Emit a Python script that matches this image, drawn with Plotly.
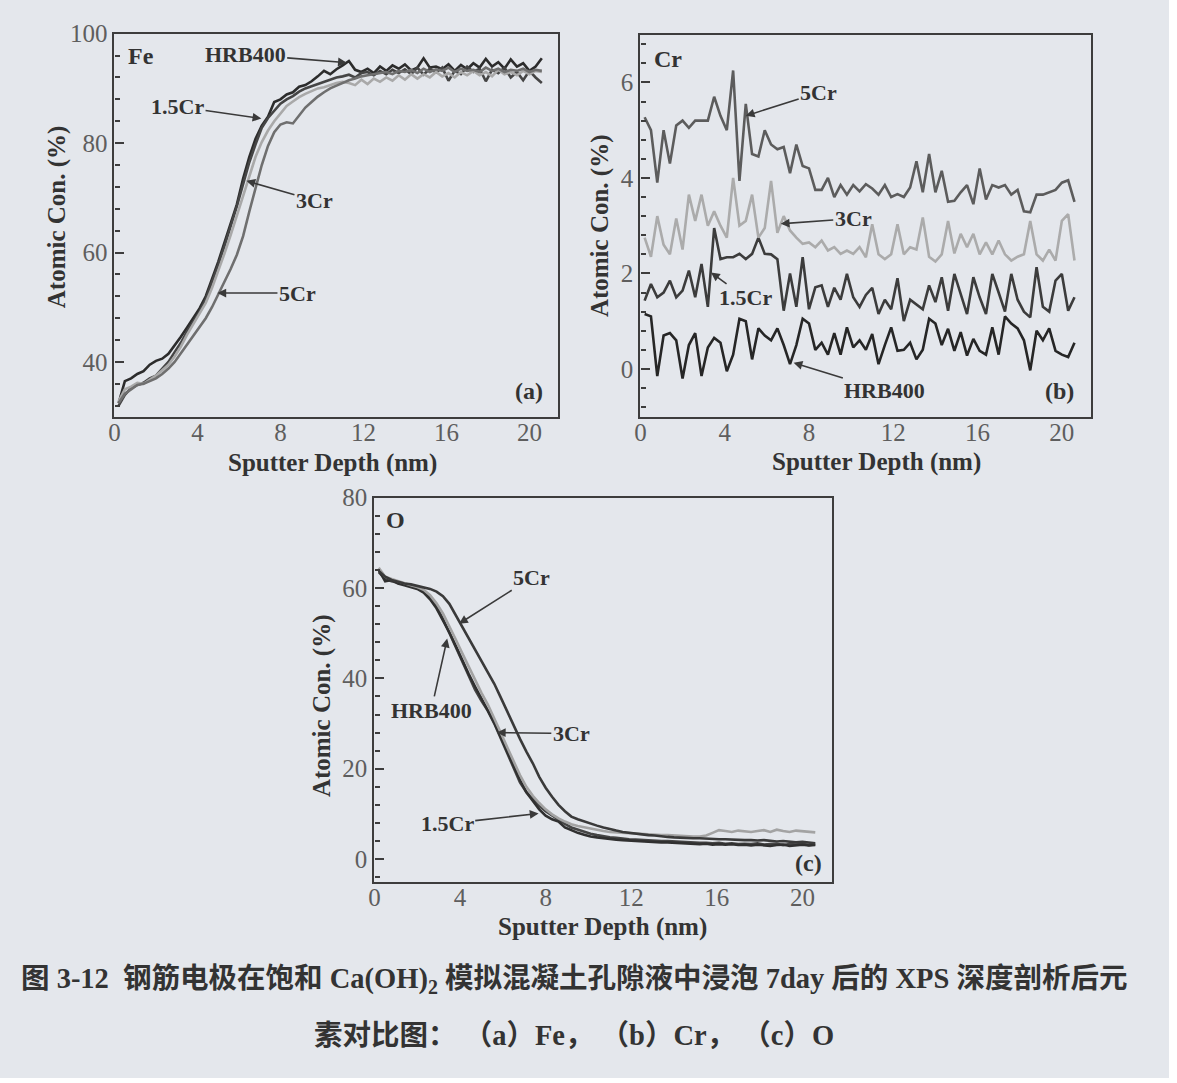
import plotly.graph_objects as go

# Sputter depth grid (nm) shared by all profiles
DEPTH = [0.2, 0.5, 0.8, 1.1, 1.4, 1.7, 2.0, 2.3, 2.6, 2.9,
         3.2, 3.5, 3.8, 4.1, 4.4, 4.7, 5.0, 5.3, 5.6, 5.9,
         6.2, 6.5, 6.8, 7.1, 7.4, 7.7, 8.0, 8.3, 8.6, 8.9,
         9.2, 9.5, 9.8, 10.1, 10.4, 10.7, 11.0, 11.3, 11.6, 11.9,
         12.2, 12.5, 12.8, 13.1, 13.4, 13.7, 14.0, 14.3, 14.6, 14.9,
         15.2, 15.5, 15.8, 16.1, 16.4, 16.7, 17.0, 17.3, 17.6, 17.9,
         18.2, 18.5, 18.8, 19.1, 19.4, 19.7, 20.0, 20.3, 20.6]

SAMPLES = ["HRB400", "1.5Cr", "3Cr", "5Cr"]

# (a) Fe atomic concentration (%)
FE_HRB400 = [32.5, 36.5, 37.0, 37.8, 38.3, 39.5, 40.2, 40.6, 41.5, 43.0,
             44.6, 46.3, 48.0, 49.8, 52.0, 55.0, 58.3, 61.8, 65.2, 68.8,
             73.5, 77.5, 80.8, 83.2, 84.8, 87.5, 88.0, 88.9, 89.3, 90.3,
             90.6, 91.3, 92.2, 93.2, 92.6, 93.5, 94.2, 95.0, 93.4, 93.0,
             93.6, 92.8, 94.0, 93.2, 94.2, 93.6, 94.4, 93.3, 93.8, 95.5,
             93.8, 94.0, 93.5, 94.4, 93.2, 94.3, 93.5, 94.6, 93.8, 95.4,
             94.0, 94.8, 93.6, 95.3, 94.0, 94.6, 93.2, 94.0, 95.5]
FE_15CR = [32.0, 34.0, 35.2, 35.8, 36.2, 37.0, 37.5, 38.8, 40.0, 41.8,
           43.5, 45.6, 47.5, 49.2, 51.5, 54.5, 57.8, 61.2, 64.8, 68.5,
           72.5, 76.5, 79.8, 82.8, 84.6, 86.0, 87.2, 88.0, 88.6, 89.4,
           90.0, 90.4, 90.8, 91.2, 91.6, 92.0, 92.2, 92.5, 92.0, 92.8,
           93.0, 92.4, 93.2, 92.6, 93.4, 92.8, 93.5, 92.6, 93.8, 92.5,
           93.6, 92.9, 93.8, 91.4, 93.2, 92.6, 94.0, 93.0, 93.6, 91.3,
           93.4, 92.8, 93.8, 92.0, 93.0, 91.5, 93.2, 92.0, 91.0]
FE_3CR = [32.8, 35.0, 35.5, 36.2, 36.0, 36.8, 37.5, 38.5, 39.5, 41.0,
          42.8, 45.0, 47.0, 48.8, 50.8, 53.5, 56.5, 59.8, 63.2, 66.8,
          70.5, 74.2, 77.5, 80.2, 82.3, 84.0, 85.5, 86.8, 87.6, 88.4,
          89.0, 89.5, 90.0, 90.2, 90.6, 91.0, 91.2, 91.0, 90.6, 91.6,
          90.8, 91.8, 91.2, 92.0, 91.4, 92.4, 91.6, 92.6, 91.8, 92.6,
          92.0, 93.0, 92.2, 92.8, 92.0, 93.0, 92.4, 93.2, 92.4, 93.0,
          92.2, 93.4, 92.6, 93.0, 92.4, 93.2, 92.6, 93.2, 93.0]
FE_5CR = [32.5, 34.2, 35.0, 35.8, 36.0, 36.5, 37.0, 37.8, 38.8, 40.0,
          41.5, 43.2, 44.8, 46.5, 48.0, 50.0, 52.3, 54.5, 57.0, 59.6,
          63.0, 67.5, 72.0, 76.0, 79.5, 82.0, 83.4, 83.8, 83.6, 85.0,
          86.5, 87.5, 88.5, 89.3, 90.0, 90.5, 91.0, 91.5, 91.8, 92.2,
          92.4, 92.6, 92.8, 93.0, 92.6, 93.2, 93.0, 93.4, 92.8, 93.6,
          93.0, 93.5, 93.2, 93.8, 93.0, 93.6, 93.2, 93.4, 93.0, 93.8,
          93.2, 93.6, 93.0, 93.4, 93.2, 93.6, 93.0, 93.4, 93.2]

# (b) Cr atomic concentration (%)
CR_HRB400 = [1.15, 1.1, -0.15, 0.7, 0.75, 0.6, -0.2, 0.5, 0.75, -0.15,
             0.45, 0.65, 0.55, -0.05, 0.3, 1.05, 1.0, 0.2, 0.85, 0.7,
             0.6, 0.85, 0.5, 0.1, 0.5, 1.05, 0.95, 0.4, 0.55, 0.3,
             0.75, 0.3, 0.87, 0.45, 0.6, 0.4, 0.73, 0.1, 0.5, 0.87,
             0.38, 0.4, 0.55, 0.2, 0.4, 1.05, 0.95, 0.5, 0.84, 0.38,
             0.77, 0.28, 0.63, 0.38, 0.3, 0.87, 0.3, 1.1, 0.95, 0.85,
             0.6, -0.03, 0.8, 0.6, 0.85, 0.38, 0.3, 0.25, 0.55]
CR_15CR = [1.43, 1.78, 1.5, 1.6, 1.85, 1.5, 1.64, 2.06, 1.5, 2.2,
           1.3, 2.95, 2.3, 2.34, 2.34, 2.41, 2.3, 2.41, 2.75, 2.41,
           2.4, 2.3, 1.22, 2.0, 1.3, 2.34, 1.25, 1.71, 1.75, 1.3,
           1.7, 1.45, 1.99, 1.5, 1.3, 1.55, 1.7, 1.15, 1.45, 1.25,
           1.9, 1.0, 1.45, 1.35, 1.25, 1.75, 1.4, 1.92, 1.22, 1.99,
           1.55, 1.15, 1.92, 1.5, 1.15, 1.99, 1.6, 1.2, 1.99, 1.45,
           1.2, 1.08, 2.13, 1.3, 1.2, 1.85, 1.99, 1.22, 1.5]
CR_3CR = [2.75, 2.35, 3.2, 2.6, 2.4, 3.15, 2.5, 3.65, 3.1, 3.65,
          3.0, 3.3, 3.0, 2.75, 4.0, 3.0, 3.1, 3.65, 2.75, 2.95,
          3.94, 2.85, 3.2, 2.9, 2.75, 2.62, 2.65, 2.55, 2.69, 2.48,
          2.55, 2.41, 2.48, 2.41, 2.55, 2.34, 3.03, 2.4, 2.3, 2.4,
          3.03, 2.4, 2.55, 2.5, 3.17, 2.35, 2.25, 2.4, 3.1, 2.42,
          2.83, 2.55, 2.83, 2.4, 2.65, 2.4, 2.69, 2.4, 2.27, 2.35,
          2.4, 3.1, 2.4, 2.27, 2.5, 2.27, 3.1, 3.24, 2.27]
CR_5CR = [5.27, 5.0, 3.9, 5.0, 4.3, 5.1, 5.2, 5.05, 5.2, 5.2,
          5.2, 5.7, 5.3, 5.0, 6.25, 3.94, 5.55, 4.5, 4.45, 5.0,
          4.7, 4.6, 4.65, 4.1, 4.7, 4.25, 4.2, 3.75, 3.75, 4.0,
          3.6, 3.85, 3.65, 3.85, 3.72, 3.87, 3.78, 3.65, 3.85, 3.6,
          3.66, 3.6, 3.8, 4.35, 3.7, 4.5, 3.7, 4.15, 3.5, 3.52,
          3.7, 3.85, 3.45, 4.2, 3.55, 3.85, 3.8, 3.85, 3.65, 3.75,
          3.3, 3.28, 3.65, 3.65, 3.7, 3.75, 3.9, 3.95, 3.5]

# (c) O atomic concentration (%)
O_HRB400 = [63.5, 62.0, 61.5, 61.2, 60.8, 60.5, 60.0, 59.2, 57.8, 55.8,
            53.2, 50.0, 47.0, 43.8, 40.5, 37.5, 35.0, 32.8, 30.0, 26.8,
            23.5, 20.0, 17.0, 14.8, 13.2, 11.8, 10.6, 9.6, 8.6, 7.8,
            7.0, 6.5, 6.0, 5.6, 5.3, 5.0, 4.8, 4.7, 4.5, 4.4,
            4.3, 4.2, 4.2, 4.1, 4.0, 4.0, 3.9, 3.8, 3.8, 3.7,
            3.6, 3.6, 3.5, 3.6, 3.4, 3.5, 3.3, 3.4, 3.3, 3.5,
            3.2, 3.3, 3.4, 3.1, 3.3, 3.2, 3.4, 3.1, 3.3]
O_15CR = [64.0, 61.5, 61.8, 61.0, 60.6, 60.2, 59.8, 59.0, 57.5, 55.5,
          53.0, 50.2, 47.2, 44.0, 41.0, 38.2, 35.5, 33.0, 30.2, 27.0,
          23.8, 20.5, 17.5, 14.8, 12.8, 11.0, 9.6, 8.8, 8.3, 7.0,
          6.4, 5.8, 5.4, 5.0, 4.8, 4.6, 4.4, 4.3, 4.2, 4.1,
          4.0, 3.9, 3.9, 3.8, 3.7, 3.7, 3.6, 3.5, 3.5, 3.4,
          3.3, 3.4, 3.2, 3.3, 3.2, 3.3, 3.1, 3.2, 3.0, 3.2,
          3.1, 2.9, 3.1, 3.2, 2.9, 3.0, 3.2, 3.0, 3.1]
O_3CR = [64.5, 62.5, 62.0, 61.5, 61.0, 60.6, 60.2, 59.6, 58.4, 56.6,
         54.4, 51.6, 48.6, 45.6, 42.6, 39.6, 36.8, 34.2, 31.2, 28.0,
         24.8, 21.6, 18.6, 16.0, 14.0, 12.4, 11.0, 9.9, 9.0, 8.3,
         7.7, 7.3, 7.0, 6.7, 6.4, 6.2, 6.0, 5.9, 5.8, 5.7,
         5.6, 5.5, 5.5, 5.4, 5.3, 5.3, 5.2, 5.1, 5.0, 5.0,
         5.0, 5.2, 5.8, 6.4, 6.2, 6.0, 6.3, 6.1, 6.0, 6.2,
         6.4, 6.0, 6.5, 6.2, 6.0, 6.3, 6.2, 6.1, 5.9]
O_5CR = [63.8, 62.5, 61.8, 61.4, 61.0, 60.8, 60.5, 60.2, 59.8, 59.2,
         58.2, 56.5, 54.0, 51.6, 49.0, 46.5, 44.0, 41.4, 38.8, 35.8,
         32.6, 29.5, 26.6, 23.8, 21.2, 18.2, 15.8, 13.8, 12.0, 10.6,
         9.4, 8.8, 8.3, 7.9, 7.4, 7.0, 6.6, 6.3, 6.0, 5.8,
         5.6, 5.4, 5.3, 5.2, 5.0, 4.9, 4.8, 4.7, 4.7, 4.6,
         4.6, 4.5, 4.5, 4.4, 4.4, 4.3, 4.3, 4.2, 4.2, 4.1,
         4.2, 4.0, 3.9, 4.0, 3.8, 3.7, 3.8, 3.6, 3.5]

X_TICKS = [0, 4, 8, 12, 16, 20]

PAPER = "#e4e7ec"
INK = "#333333"
TICK_INK = "#5e5e5e"
FRAME = "#3d3d3d"
SERIF = "Liberation Serif, Times New Roman, serif"

# figure canvas size and the page-layout positions (px) it is laid out in
W, H = 1169, 1078


def fx(x):
    return (x - 6.5) / 0.995


def fy(y):
    return (y - 12.3) / 0.988


def px(x):
    return fx(x) / W


def py(y):
    return 1 - fy(y) / H


# panel -> (axis suffix, series list, line colours)
panels = [
    ("", [FE_HRB400, FE_15CR, FE_3CR, FE_5CR],
     ["#2c2c2c", "#454545", "#a9a9a9", "#6f6f6f"]),
    ("2", [CR_HRB400, CR_15CR, CR_3CR, CR_5CR],
     ["#262626", "#3c3c3c", "#ababab", "#5c5c5c"]),
    ("3", [O_HRB400, O_15CR, O_3CR, O_5CR],
     ["#454545", "#303030", "#a3a3a3", "#3a3a3a"]),
]

fig = go.Figure()
for suffix, series, colours in panels:
    for name, vals, col in zip(SAMPLES, series, colours):
        fig.add_trace(go.Scatter(
            x=DEPTH, y=vals, mode="lines", name=name,
            line=dict(color=col, width=2.6),
            xaxis="x" + suffix, yaxis="y" + suffix, showlegend=False,
        ))


def x_axis(left, right, anchor):
    return dict(
        domain=[px(left), px(right)], anchor=anchor, range=[0, 21.4],
        tickvals=X_TICKS, ticks="", showgrid=False, zeroline=False,
        showline=True, mirror=True, linecolor=FRAME, linewidth=2.2,
        ticklabelstandoff=-8,
        tickfont=dict(family=SERIF, size=25, color=TICK_INK),
    )


def y_axis(top, bottom, anchor, rng, tickvals, minor_step):
    return dict(
        domain=[py(bottom), py(top)], anchor=anchor, range=rng,
        tickvals=tickvals,
        ticks="inside", ticklen=9, tickwidth=2, tickcolor=FRAME,
        minor=dict(ticks="inside", ticklen=5, tickwidth=1.6,
                   tickcolor=FRAME, dtick=minor_step, tick0=0),
        showgrid=False, zeroline=False,
        showline=True, mirror=True, linecolor=FRAME, linewidth=2.2,
        tickfont=dict(family=SERIF, size=25, color=TICK_INK),
    )


fig.update_layout(
    width=W, height=H, margin=dict(l=0, r=0, t=0, b=0),
    paper_bgcolor=PAPER, plot_bgcolor=PAPER,
    xaxis=x_axis(115, 559, "y"),
    yaxis=y_axis(33, 416, "x", [30, 100], [40, 60, 80, 100], 4),
    xaxis2=x_axis(641, 1092, "y2"),
    yaxis2=y_axis(34, 416, "x2", [-1, 7], [0, 2, 4, 6], 0.4),
    xaxis3=x_axis(375, 833, "y3"),
    yaxis3=y_axis(497, 881, "x3", [-5, 80], [0, 20, 40, 60, 80], 4),
)

LABEL_FONT = dict(family=SERIF, size=22, color=INK)
TITLE_FONT = dict(family=SERIF, size=25, color=INK)


def arrow_note(text, xa, ya, tip, tail):
    return dict(
        text="<b>" + text + "</b>", xref=xa, yref=ya,
        x=tip[0], y=tip[1], ax=tail[0], ay=tail[1],
        axref=xa, ayref=ya, showarrow=True,
        arrowhead=2, arrowsize=1.1, arrowwidth=1.6, arrowcolor="#3a3a3a",
        standoff=0, startstandoff=0, font=LABEL_FONT,
    )


def plain_note(text, xa, ya, pos, size, anchor="center"):
    return dict(text="<b>" + text + "</b>", xref=xa, yref=ya,
                x=pos[0], y=pos[1], showarrow=False, xanchor=anchor,
                font=dict(family=SERIF, size=size, color=INK))


def page_text(text, x, y, font, angle=0):
    return dict(text=text, xref="paper", yref="paper", x=px(x), y=py(y),
                xanchor="center", yanchor="middle", textangle=angle,
                showarrow=False, font=font)


notes = [
    # (a) Fe
    arrow_note("HRB400", "x", "y", (11.2, 94.7), (6.3, 96.2)),
    arrow_note("1.5Cr", "x", "y", (7.08, 84.5), (3.04, 86.7)),
    arrow_note("3Cr", "x", "y", (6.36, 73.1), (9.64, 69.5)),
    arrow_note("5Cr", "x", "y", (4.96, 52.6), (8.82, 52.6)),
    plain_note("Fe", "x", "y", (0.55, 96.0), 24, "left"),
    plain_note("(a)", "x", "y", (20.0, 34.7), 24),
    # (b) Cr
    arrow_note("5Cr", "x2", "y2", (5.0, 5.3), (8.46, 5.79)),
    arrow_note("3Cr", "x2", "y2", (6.66, 3.04), (10.1, 3.15)),
    arrow_note("1.5Cr", "x2", "y2", (3.35, 2.02), (5.0, 1.49)),
    arrow_note("HRB400", "x2", "y2", (7.27, 0.13), (11.6, -0.46)),
    plain_note("Cr", "x2", "y2", (0.55, 6.5), 24, "left"),
    plain_note("(b)", "x2", "y2", (19.9, -0.46), 24),
    # (c) O
    arrow_note("5Cr", "x3", "y3", (3.95, 52.1), (7.35, 62.3)),
    arrow_note("HRB400", "x3", "y3", (3.4, 48.8), (2.65, 32.9)),
    arrow_note("3Cr", "x3", "y3", (5.72, 28.0), (9.2, 27.8)),
    arrow_note("1.5Cr", "x3", "y3", (7.67, 10.1), (3.4, 7.8)),
    plain_note("O", "x3", "y3", (0.45, 75.0), 24, "left"),
    plain_note("(c)", "x3", "y3", (20.3, -0.8), 24),
    # axis titles
    page_text("<b>Atomic Con. (%)</b>", 57, 216, TITLE_FONT, -90),
    page_text("<b>Atomic Con. (%)</b>", 600, 225, TITLE_FONT, -90),
    page_text("<b>Atomic Con. (%)</b>", 322, 705, TITLE_FONT, -90),
    page_text("<b>Sputter Depth (nm)</b>", 333, 462, TITLE_FONT),
    page_text("<b>Sputter Depth (nm)</b>", 877, 461, TITLE_FONT),
    page_text("<b>Sputter Depth (nm)</b>", 603, 926, TITLE_FONT),
]

CAPTION_FONT = dict(family="Liberation Serif, Noto Sans CJK SC", size=28.5,
                    color="#333333")
notes.append(page_text(
    "<b>图 3-12  钢筋电极在饱和 Ca(OH)<sub>2</sub> 模拟混凝土孔隙液中浸泡 7day 后的 XPS 深度剖析后元</b>",
    575, 980, CAPTION_FONT))
notes.append(page_text(
    "<b>素对比图：&nbsp;（a）Fe，&nbsp;（b）Cr，&nbsp;（c）O</b>",
    575, 1035, CAPTION_FONT))

fig.update_layout(annotations=notes)
fig.write_html("out.html")
